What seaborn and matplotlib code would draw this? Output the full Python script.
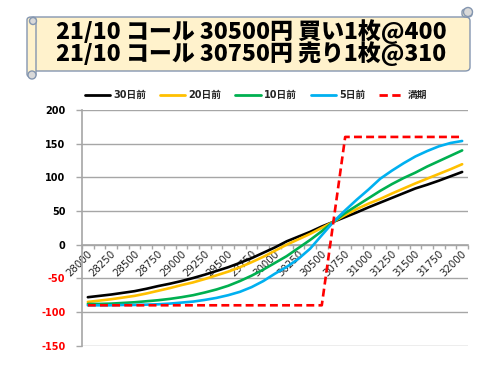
import matplotlib
matplotlib.use("Agg")
import matplotlib.pyplot as plt
import matplotlib.patches as mpatches
import matplotlib.transforms as mtransforms
from matplotlib.ticker import FixedLocator, NullFormatter
import seaborn as sns
import pandas as pd

# ---- data ----
strikes = [28000, 28125, 28250, 28375, 28500, 28625, 28750, 28875, 29000, 29125,
           29250, 29375, 29500, 29625, 29750, 29875, 30000, 30125, 30250, 30375,
           30500, 30625, 30750, 30875, 31000, 31125, 31250, 31375, 31500, 31625,
           31750, 31875, 32000]
d30 = [-78, -76, -74, -71.5, -69, -65.5, -61.5, -58, -54, -49.5, -44.5, -39, -33.5, -27,
       -20, -12, -4, 5, 12, 19, 27, 34, 41, 48, 55.5, 62.5, 69.5, 76.5, 83.5, 89, 95, 101.5, 108]
d20 = [-85, -83, -81, -78.5, -76, -72.5, -68.5, -64.5, -60, -56, -51, -45.5, -40, -33.5,
       -26, -18, -9, 0, 8, 16, 25, 34, 44, 53, 61, 68, 76, 83.5, 91, 98, 105, 112, 119.5]
d10 = [-88, -88, -87.5, -86.5, -85.5, -84, -82.5, -80.5, -78, -75, -71, -66.5, -61, -54,
       -46, -37, -27, -17, -5, 7, 20, 34, 47, 58, 69, 80, 90, 99, 107, 116, 124, 132, 140]
d5 = [-90, -90, -90, -89.5, -89.5, -89, -88.5, -87.5, -86, -84.5, -82, -79, -75, -70,
      -63, -54, -43, -33, -21, -6, 14, 34, 51, 67, 82, 98, 110, 121, 131, 139, 146, 151, 154]
expiry = [-90, -90, -90, -90, -90, -90, -90, -90, -90, -90, -90, -90, -90, -90, -90, -90,
          -90, -90, -90, -90, -90, 35, 160, 160, 160, 160, 160, 160, 160, 160, 160, 160, 160]
series_names = ["30日前", "20日前", "10日前", "5日前", "満期"]
series_colors = ["#000000", "#FFC000", "#00B050", "#00B0F0", "#FF0000"]
title_lines = ["21/10 コール 30500円 買い1枚@400", "21/10 コール 30750円 売り1枚@310"]
yticks = [-150, -100, -50, 0, 50, 100, 150, 200]

sns.set_theme(style="white")
plt.rcParams["font.family"] = ["DejaVu Sans", "Noto Sans CJK JP"]

W, H = 500, 375
fig = plt.figure(figsize=(5, 3.75), dpi=100)
fig.patch.set_facecolor("white")


def fx(px):
    return px / W


def fy(py):
    return 1 - py / H


# ---- scroll banner ----
ec = "#8496B0"
fill = "#FFF2CC"
banner = mpatches.FancyBboxPatch((fx(30), fy(71)), fx(440), 54 / H,
                                 boxstyle="round,pad=0,rounding_size=0.01",
                                 transform=fig.transFigure, facecolor=fill,
                                 edgecolor=ec, linewidth=1.0, zorder=1)
fig.patches.append(banner)
fig.patches.append(mpatches.FancyBboxPatch((fx(462), fy(17)), fx(10), 8 / H,
                                           boxstyle="round,pad=0,rounding_size=0.008",
                                           transform=fig.transFigure, facecolor=fill,
                                           edgecolor=ec, linewidth=1.0, zorder=1))
fig.patches.append(mpatches.Ellipse((fx(468), fy(12)), fx(9), 9 / H,
                                    transform=fig.transFigure, facecolor="#D9D9D9",
                                    edgecolor=ec, linewidth=1.0, zorder=2))
fig.patches.append(mpatches.FancyBboxPatch((fx(27), fy(77)), fx(9), 60 / H,
                                           boxstyle="round,pad=0,rounding_size=0.008",
                                           transform=fig.transFigure, facecolor=fill,
                                           edgecolor=ec, linewidth=1.0, zorder=1))
fig.patches.append(mpatches.Ellipse((fx(33), fy(21)), fx(7), 7 / H,
                                    transform=fig.transFigure, facecolor="#D9D9D9",
                                    edgecolor=ec, linewidth=1.0, zorder=2))
fig.patches.append(mpatches.Ellipse((fx(32), fy(75)), fx(8), 8 / H,
                                    transform=fig.transFigure, facecolor="#D9D9D9",
                                    edgecolor=ec, linewidth=1.0, zorder=2))

fig.text(fx(251), fy(42.5), "\n".join(title_lines), ha="center", va="center",
         fontsize=16.5, fontweight=900, color="black", linespacing=0.86,
         family=["Noto Sans CJK JP", "DejaVu Sans"], zorder=3)

# ---- axes ----
ax = fig.add_axes([82 / W, 1 - 345.7 / H, (468 - 82) / W, (345.7 - 110) / H])
ax.set_facecolor("white")

idx = list(range(len(strikes)))
rows = []
for name, vals in zip(series_names, [d30, d20, d10, d5, expiry]):
    for i, v in zip(idx, vals):
        rows.append({"idx": i, "value": v, "series": name})
df = pd.DataFrame(rows)

sns.lineplot(data=df, x="idx", y="value", hue="series", style="series",
             hue_order=series_names, style_order=series_names,
             palette=dict(zip(series_names, series_colors)),
             dashes={"30日前": "", "20日前": "", "10日前": "", "5日前": "", "満期": (3, 1.6)},
             linewidth=1.9, ax=ax, zorder=3, legend=True)

ax.set_xlim(-0.5, len(strikes) - 0.5)
ax.set_ylim(-150, 200)
ax.set_yticks(yticks)
ax.set_yticklabels([str(v) for v in yticks])
for lbl, v in zip(ax.get_yticklabels(), yticks):
    lbl.set_color("#FF0000" if v < 0 else "black")
    lbl.set_fontweight("bold")
    lbl.set_fontsize(7)
ax.yaxis.grid(True, color="#A6A6A6", linewidth=1.0)
ax.xaxis.grid(False)
ax.set_axisbelow(True)
ax.tick_params(axis="y", length=4, width=1, color="#A6A6A6", pad=8, direction="out", left=True)

for s in ["top", "right"]:
    ax.spines[s].set_visible(False)
ax.spines["left"].set_color("#A6A6A6")
ax.spines["left"].set_linewidth(1.2)
ax.spines["bottom"].set_position(("data", 0))
ax.spines["bottom"].set_color("#A6A6A6")
ax.spines["bottom"].set_linewidth(1.2)

major = idx[::2]
ax.xaxis.set_major_locator(FixedLocator(major))
ax.set_xticklabels([str(strikes[i]) for i in major])
ax.xaxis.set_minor_locator(FixedLocator([i - 0.5 for i in range(len(strikes) + 1)]))
ax.xaxis.set_minor_formatter(NullFormatter())
ax.tick_params(axis="x", which="major", length=0, pad=5.5, labelsize=7.4, bottom=True)
ax.tick_params(axis="x", which="minor", length=3, width=1, color="#A6A6A6",
               direction="out", bottom=True)
shift = mtransforms.ScaledTranslation(3 / 100, 0, fig.dpi_scale_trans)
for lbl in ax.get_xticklabels():
    lbl.set_rotation(45)
    lbl.set_ha("right")
    lbl.set_va("center")
    lbl.set_rotation_mode("anchor")
    lbl.set_transform(lbl.get_transform() + shift)
ax.set_xlabel("")
ax.set_ylabel("")

# legend
handles, labels = ax.get_legend_handles_labels()
ax.legend_.remove()
leg = fig.legend(handles, labels, loc="center left", bbox_to_anchor=(fx(76), fy(95)),
                 ncol=5, frameon=False, handlelength=2.6, columnspacing=1.45,
                 handletextpad=0.3, prop={"size": 7, "weight": "bold",
                                          "family": ["DejaVu Sans", "Noto Sans CJK JP"]})
for h in leg.get_lines():
    h.set_linewidth(2.0)

fig.savefig("out.png", dpi=100, facecolor="white")
